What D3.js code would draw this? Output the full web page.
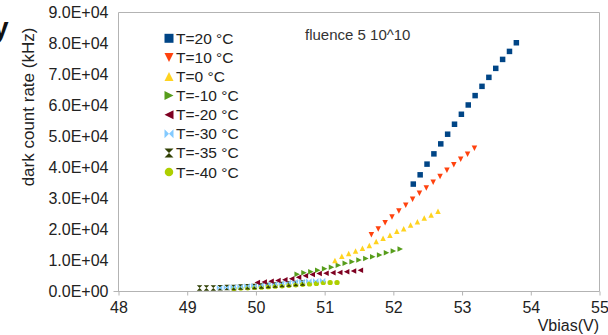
<!DOCTYPE html>
<html>
<head>
<meta charset="utf-8">
<script src="https://cdn.jsdelivr.net/npm/d3@7"></script>
<style>
  html, body { margin: 0; padding: 0; background: #fff; }
  svg { display: block; }
  text { font-family: "Liberation Sans", Arial, sans-serif; }
</style>
</head>
<body>
<svg id="chart" width="608" height="335"></svg>
<script>
// Dark count rate vs bias voltage at several temperatures
const xTicks = [48, 49, 50, 51, 52, 53, 54, 55];
const yTicks = [0, 10000, 20000, 30000, 40000, 50000, 60000, 70000, 80000, 90000];

const labels = ["T=20 °C", "T=10 °C", "T=0 °C", "T=-10 °C", "T=-20 °C", "T=-30 °C", "T=-35 °C", "T=-40 °C"];
const colors = ["#004586", "#ff420e", "#ffd320", "#579d1c", "#7e0021", "#83caff", "#314004", "#aecf00"];
const shapes = ["square", "triDown", "triUp", "triRight", "triLeft", "bowtie", "hourglass", "circle"];

const vT20  = [52.29, 52.39, 52.49, 52.59, 52.69, 52.79, 52.89, 52.99, 53.09, 53.19, 53.29, 53.39, 53.49, 53.59, 53.69, 53.79];
const rT20  = [34650, 37640, 41090, 44400, 47620, 50740, 53960, 57170, 60170, 63190, 66180, 69080, 71980, 74870, 77450, 80240];
const vT10  = [51.68, 51.78, 51.88, 51.98, 52.08, 52.18, 52.28, 52.38, 52.48, 52.58, 52.68, 52.78, 52.88, 52.98, 53.08, 53.18];
const rT10  = [18340, 20170, 22200, 24030, 25970, 27800, 29730, 31660, 33370, 35230, 37130, 39090, 40860, 42630, 44240, 46240];
const vT0   = [51.15, 51.25, 51.35, 51.45, 51.55, 51.65, 51.75, 51.85, 51.95, 52.05, 52.15, 52.25, 52.35, 52.45, 52.55, 52.65];
const rT0   = [9970, 11390, 12230, 13100, 13960, 14800, 16090, 17210, 18150, 19430, 20270, 21460, 22520, 23710, 24680, 25870];
const vTm10 = [50.60, 50.70, 50.80, 50.90, 51.00, 51.10, 51.20, 51.30, 51.40, 51.50, 51.60, 51.70, 51.80, 51.90, 52.00, 52.10];
const rTm10 = [5600, 6080, 6400, 6850, 7300, 7820, 8490, 9140, 9620, 10170, 10650, 11200, 11810, 12480, 13100, 13740];
const vTm20 = [50.02, 50.12, 50.22, 50.32, 50.42, 50.52, 50.62, 50.72, 50.82, 50.92, 51.02, 51.12, 51.22, 51.32, 51.42, 51.52];
const rTm20 = [2900, 3060, 3280, 3540, 3830, 4090, 4570, 5050, 5470, 5790, 5920, 6020, 6150, 6340, 6600, 6890];
const vTm30 = [49.47, 49.57, 49.67, 49.77, 49.87, 49.97, 50.07, 50.17, 50.27, 50.37, 50.47, 50.57, 50.67, 50.77, 50.87, 50.97];
const rTm30 = [1190, 1290, 1420, 1510, 1740, 1830, 2060, 2380, 2480, 2700, 2900, 3120, 3220, 3350, 3440, 3540];
const vTm35 = [49.18, 49.28, 49.38, 49.48, 49.58, 49.68, 49.78, 49.88, 49.98, 50.08, 50.18, 50.28, 50.38, 50.48, 50.58, 50.68];
const rTm35 = [1090, 1120, 1160, 1200, 1260, 1330, 1420, 1520, 1640, 1780, 1940, 2100, 2260, 2420, 2580, 2740];
const vTm40 = [49.68, 49.78, 49.88, 49.98, 50.08, 50.18, 50.28, 50.38, 50.48, 50.58, 50.68, 50.78, 50.88, 50.98, 51.08, 51.18];
const rTm40 = [1000, 1100, 1200, 1300, 1400, 1550, 1700, 1850, 2000, 2150, 2300, 2450, 2600, 2900, 2900, 2900];

const voltages = [vT20, vT10, vT0, vTm10, vTm20, vTm30, vTm35, vTm40];
const rates    = [rT20, rT10, rT0, rTm10, rTm20, rTm30, rTm35, rTm40];

const series = labels.map((name, i) => ({
  name, color: colors[i], shape: shapes[i],
  points: voltages[i].map((v, j) => ({ v, r: rates[i][j] }))
}));

const svg = d3.select("#chart");
const x = d3.scaleLinear().domain([48, 55]).range([118.5, 599.5]);
const y = d3.scaleLinear().domain([0, 90000]).range([291.5, 12.5]);

// Marker path centred on its bounding box, s = overall size
function markerPath(shape, s) {
  const h = s / 2;
  switch (shape) {
    case "square":   return `M${-h},${-h}H${h}V${h}H${-h}Z`;
    case "triDown":  return `M${-h},${-h}H${h}L0,${h}Z`;
    case "triUp":    return `M${-h},${h}H${h}L0,${-h}Z`;
    case "triRight": return `M${-h},${-h}L${h},0L${-h},${h}Z`;
    case "triLeft":  return `M${h},${-h}L${-h},0L${h},${h}Z`;
    case "bowtie":   return `M${-h},${-h}L0,0L${-h},${h}ZM${h},${-h}L0,0L${h},${h}Z`;
    case "hourglass":return `M${-h},${-h}H${h}L0,0ZM${-h},${h}H${h}L0,0Z`;
    case "circle":   return d3.arc()({innerRadius: 0, outerRadius: h * 0.95, startAngle: 0, endAngle: 2 * Math.PI});
  }
}

// Plot frame
const frame = svg.append("g").attr("stroke", "#b3b3b3").attr("stroke-width", 1).attr("fill", "none");
frame.append("line").attr("x1", x(48)).attr("x2", x(55)).attr("y1", y(90000)).attr("y2", y(90000));
frame.append("line").attr("x1", x(55)).attr("x2", x(55)).attr("y1", y(0)).attr("y2", y(90000));
frame.append("line").attr("x1", x(48)).attr("x2", x(48)).attr("y1", y(0)).attr("y2", y(90000));
frame.append("line").attr("x1", x(48) - 5).attr("x2", x(55)).attr("y1", y(0)).attr("y2", y(0));

// X axis
const xAxis = svg.append("g").attr("transform", `translate(0,${y(0)})`)
  .call(d3.axisBottom(x).tickValues(xTicks).tickFormat(d3.format("d")).tickSize(4).tickPadding(6));
xAxis.select(".domain").remove();
xAxis.selectAll(".tick line").attr("stroke", "#b3b3b3");
xAxis.selectAll(".tick text").attr("font-size", 16).attr("fill", "#222")
  .attr("font-family", "Liberation Sans, Arial, sans-serif");

// Y axis
const yAxis = svg.append("g").attr("transform", `translate(${x(48)},0)`)
  .call(d3.axisLeft(y).tickValues(yTicks).tickSize(0).tickPadding(10)
    .tickFormat(d => d === 0 ? "0.0E+00" : (d / 1e4).toFixed(1) + "E+04"));
yAxis.select(".domain").remove();
yAxis.selectAll(".tick text").attr("font-size", 16).attr("fill", "#222")
  .attr("font-family", "Liberation Sans, Arial, sans-serif");

// Axis titles
svg.append("text").attr("transform", "translate(34,107) rotate(-90)")
  .attr("text-anchor", "middle").attr("font-size", 17).attr("fill", "#222")
  .text("dark count rate (kHz)");
svg.append("text").attr("x", 599).attr("y", 331).attr("text-anchor", "end")
  .attr("font-size", 16).attr("fill", "#222").text("Vbias(V)");

// Annotation
svg.append("text").attr("x", 305).attr("y", 40).attr("font-size", 15)
  .attr("font-family", "Open Sans, sans-serif").attr("fill", "#333")
  .text("fluence 5 10^10");

// Clipped heading letter at the top-left edge
svg.append("text").attr("x", -7).attr("y", 37).attr("font-size", 28).attr("font-weight", "bold")
  .attr("fill", "#111").text("y");

// Data markers (coldest series underneath)
const gData = svg.append("g");
series.slice().reverse().forEach(s => {
  gData.append("g").selectAll("path").data(s.points).join("path")
    .attr("d", markerPath(s.shape, 5.5))
    .attr("transform", d => `translate(${x(d.v)},${y(d.r)})`)
    .attr("fill", s.color);
});

// Legend
const legend = svg.append("g");
series.forEach((s, i) => {
  const cy = 38.3 + 19.1 * i;
  legend.append("path").attr("d", markerPath(s.shape, 9))
    .attr("transform", `translate(169,${cy})`).attr("fill", s.color);
  legend.append("text").attr("x", 176).attr("y", cy).attr("dy", "0.36em")
    .attr("font-size", 15.5).attr("fill", "#222").text(s.name);
});
</script>
</body>
</html>
